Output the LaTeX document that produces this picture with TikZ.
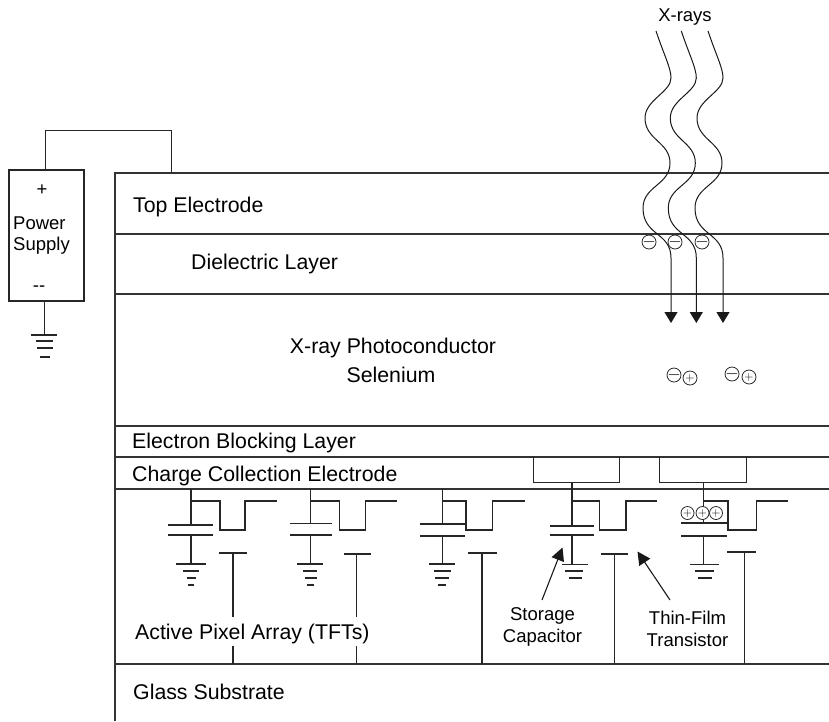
\documentclass[tikz,border=0pt]{standalone}
\usepackage{fontspec}
\setmainfont{Liberation Sans}
\usetikzlibrary{arrows.meta}
\newcommand{\chargeminus}{\fontsize{16}{16}\selectfont\makebox[0pt]{$-$}}
\newcommand{\chargeplus}{\fontsize{13}{13}\selectfont\makebox[0pt]{$+$}}

\begin{document}
\begin{tikzpicture}[
  x=1pt,
  y=-1pt,
  layer/.style={draw=black!80,line width=1.4pt},
  wire/.style={draw=black!85,line width=1.2pt},
  ray/.style={draw=black!90,line width=1pt},
  lab/.style={font=\fontsize{21.3}{24}\selectfont,inner sep=0pt},
  tag/.style={font=\fontsize{18.5}{21}\selectfont,inner sep=0pt},
  ion/.style={circle,draw=black!85,line width=0.8pt,fill=white,minimum size=14pt,inner sep=0pt},
  call/.style={-{Triangle[length=13pt,width=13pt]},draw=black!90,line width=1.1pt}
]
\useasboundingbox (0,0) rectangle (829,721);
% layers
\draw[layer] (115,721) -- (115,173) -- (829,173);
\foreach \y in {234,294,426,457,489,664} {
  \draw[layer] (115,\y) -- (829,\y);
}
% power supply
\node[draw=black!85,line width=1.2pt,minimum width=75pt,minimum height=131pt,inner sep=0pt] (supply) at (46.5,235.5) {};
\coordinate (topcontact) at (171.5,173);
\draw[wire] (supply.north -| 45.5,0) -- (45.5,130.5) -- (171.5,130.5) -- (topcontact);
\node[tag] (plus) at (42,190) {+};
\node[tag,anchor=west] (power) at (13,223) {Power};
\node[tag,anchor=west] (psupply) at (13,246) {Supply};
\node[tag] (minus) at (39,289) {-{}-};
\draw[wire] (44.5,301) -- (44.5,335);
\draw[wire] (31,335) -- (57,335);
\draw[wire] (35.5,341) -- (53,341);
\draw[wire] (37,348) -- (52.5,348);
\draw[wire] (39.5,357) -- (50,357);
% x-rays
\node[tag] (xrays) at (685,17) {X-rays};
\foreach \dx in {0,25.3,52} {
  \draw[ray,xshift=\dx pt,-{Triangle[length=11pt,width=13pt]}] (656,31) .. controls (664,55) and (671,68) .. (671,78)
    .. controls (671,92) and (645,100) .. (645,118) .. controls (645,140) and (670,142) .. (670,163)
    .. controls (670,185) and (643,186) .. (643,208) .. controls (643,236) and (671,232) .. (671,258) -- (671,323);
}
\foreach \x [count=\i] in {649,675,702} {
  \node[ion] (top\i) at (\x,242) {\chargeminus};
}
\node[ion] (pairm1) at (674,375) {\chargeminus};
\node[ion] (pairp1) at (690,378) {\chargeplus};
\node[ion] (pairm2) at (732,374) {\chargeminus};
\node[ion] (pairp2) at (749,377) {\chargeplus};
% pixels: stem, plate ends, top plate, bottom plate, tft corners, end, gate ends, gate stem
\foreach \v/\pl/\pr/\pt/\pb/\ta/\tb/\te/\gl/\gr/\gy in {
  191/168/213/525/535/220/245/277/219/247/553,
  310.5/290/332/523.5/535/339.5/365.5/397/343.5/371/554,
  442.5/419.5/464.5/524/536/466/492.5/525/468/497/553,
  572/550/594/526/535/599.5/626/657/600.5/628/554,
  703.5/681/727/523/536/728/756.5/788/727/756/552} {
  \draw[wire] (\v,489) -- (\v,\pt);
  \draw[wire] (\pl,\pt) -- (\pr,\pt);
  \draw[wire] (\pl,\pb) -- (\pr,\pb);
  \draw[wire] (\v,\pb) -- (\v,564);
  \draw[wire] (\v,501) -- (\ta,501) -- (\ta,530) -- (\tb,530) -- (\tb,501) -- (\te,501);
  \draw[wire] (\gl,\gy) -- (\gr,\gy);
}
% gate stems
\foreach \x in {233,356.5} {
  \draw[wire] (\x,553) -- (\x,617);
  \draw[wire] (\x,646) -- (\x,664);
}
\foreach \x/\y in {482/553,614.5/554,744.5/552} {
  \draw[wire] (\x,\y) -- (\x,664);
}
% grounds
\foreach \a/\b/\c/\d/\e/\f/\g/\h in {175.5/205.5/183/199/186.5/196/188/193.5,
  297/323/303/317/304.5/317/307/314,
  429/455/433.5/451/435/449/438/446} {
  \draw[wire] (\a,564) -- (\b,564);
  \draw[wire] (\c,571) -- (\d,571);
  \draw[wire] (\e,578) -- (\f,578);
  \draw[wire] (\g,585) -- (\h,585);
}
\foreach \a/\b/\c/\d/\e/\f in {561.5/587.5/565/583/568.5/581.5,
  690/718.5/695/713.5/697.5/711.5} {
  \draw[wire] (\a,564.5) -- (\b,564.5);
  \draw[wire] (\c,571) -- (\d,571);
  \draw[wire] (\e,578) -- (\f,578);
}
% pixel electrodes
\draw[wire] (533.5,457) -- (533.5,482.5) -- (619.5,482.5) -- (619.5,457);
\draw[wire] (659.5,457) -- (659.5,482.5) -- (746.5,482.5) -- (746.5,457);
\draw[wire] (572,482.5) -- (572,489);
\draw[wire] (703.5,482.5) -- (703.5,489);
\foreach \x [count=\i] in {687.5,702.5,716} {
  \node[ion,minimum size=13pt] (col\i) at (\x,513) {\chargeplus};
}
% layer labels
\node[lab,anchor=west] (electrode) at (133,207) {Top Electrode};
\node[lab,anchor=west] (dielectric) at (191,264) {Dielectric Layer};
\node[lab] (photo) at (393,348) {X-ray Photoconductor};
\node[lab] (selenium) at (391,375) {Selenium};
\node[lab,anchor=west] (blocking) at (132,443) {Electron Blocking Layer};
\node[lab,anchor=west] (collection) at (132,476) {Charge Collection Electrode};
\node[lab,anchor=west] (array) at (135,634) {Active Pixel Array (TFTs)};
\node[lab,anchor=west] (glass) at (133,692) {Glass Substrate};
% callouts
\node[tag] (storage) at (542.5,616) {Storage};
\node[tag] (capacitor) at (542.5,638) {Capacitor};
\node[tag] (thinfilm) at (687.5,618) {Thin-Film};
\node[tag] (transistor) at (687.5,640) {Transistor};
\coordinate (captip) at (562.5,547.5);
\coordinate (tfttip) at (637.5,551.5);
\draw[call] (542,600) -- (captip);
\draw[call] (670,600) -- (tfttip);
\end{tikzpicture}
\end{document}
